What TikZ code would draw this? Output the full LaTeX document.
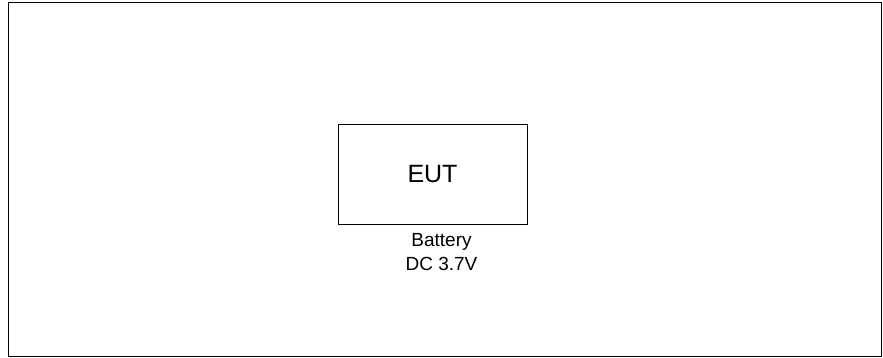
\documentclass[tikz,border=0pt]{standalone}
\usepackage{fontspec}
\setmainfont{Liberation Sans}
\usetikzlibrary{positioning}

\begin{document}
\begin{tikzpicture}[x=1pt, y=-1pt,
    unitbox/.style={draw, line width=1pt, minimum width=189pt, minimum height=99pt, inner sep=0pt, font=\fontsize{25}{28}\selectfont},
    powerlabel/.style={align=center, inner sep=0pt, font=\fontsize{19}{24}\selectfont}]

    \useasboundingbox (0, 0) rectangle (883, 358);

    % Outer frame
    \draw[line width=1pt] (8, 3) rectangle (881, 356);

    % Equipment under test
    \node[unitbox] (eut) at (432.5, 174.5) {EUT};

    % Power supply note
    \node[powerlabel, below=9pt of eut.south, xshift=9pt] (power) {Battery\\DC 3.7V};

\end{tikzpicture}
\end{document}
